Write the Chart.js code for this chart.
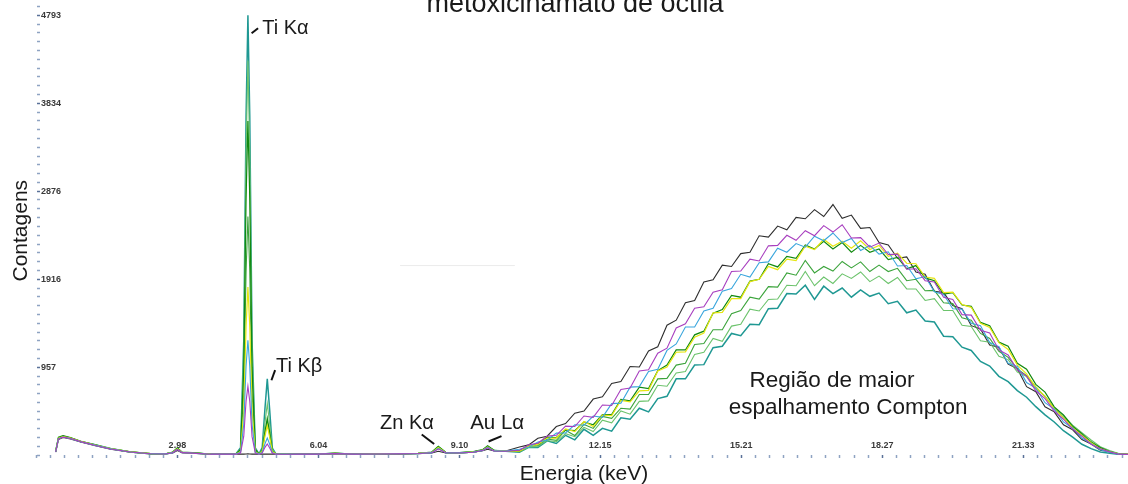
<!DOCTYPE html>
<html>
<head>
<meta charset="utf-8">
<title>Espectro XRF - metoxicinamato de octila</title>
<script src="https://cdn.jsdelivr.net/npm/chart.js@4.4.1/dist/chart.umd.min.js"></script>
<style>
  html, body { margin: 0; padding: 0; background: #fff; }
</style>
</head>
<body>
<canvas id="espectro" width="1128" height="484"></canvas>
<script>
// energia (keV) dos pontos lidos no espectro
const energia = [
  0.34, 0.40, 0.50, 0.66, 0.88, 1.20, 1.53, 1.96, 2.40, 2.72, 2.88, 2.98, 3.08, 3.30, 3.70, 4.10,
  4.25, 4.35, 4.42, 4.47, 4.51, 4.55, 4.60, 4.67, 4.75, 4.82, 4.88, 4.93, 4.98, 5.04, 5.12, 5.25,
  5.60, 6.00, 6.40, 6.80, 7.30, 7.80, 8.20, 8.50, 8.64, 8.80, 9.10, 9.40, 9.60, 9.71, 9.85, 10.10,
  10.4, 10.6, 10.8, 11.0, 11.2, 11.4, 11.6, 11.8, 12.0, 12.2, 12.4, 12.6, 12.8, 13.0, 13.2, 13.4,
  13.6, 13.8, 14.0, 14.2, 14.4, 14.6, 14.8, 15.0, 15.2, 15.4, 15.6, 15.8, 16.0, 16.2, 16.4, 16.6,
  16.8, 17.0, 17.2, 17.4, 17.6, 17.8, 18.0, 18.2, 18.4, 18.6, 18.8, 19.0, 19.2, 19.4, 19.6, 19.8,
  20.0, 20.2, 20.4, 20.6, 20.8, 21.0, 21.2, 21.4, 21.6, 21.8, 22.0, 22.2, 22.4, 22.6, 22.8, 23.0,
  23.2, 23.4, 23.6
];

const contagensPreto = [
  32, 170, 190, 175, 142, 102, 64, 31, 12, 11, 22, 48, 24, 19, 8, 8,
  8, 9, 10, 11, 12, 11, 10, 9, 9, 9, 10, 10, 9, 9, 8, 8,
  9, 9, 13, 9, 10, 12, 15, 22, 40, 22, 22, 30, 48, 62, 45, 44,
  88, 110, 182, 205, 310, 342, 455, 480, 610, 635, 780, 800, 965, 960, 1135, 1180,
  1415, 1470, 1660, 1685, 1885, 1910, 2070, 2055, 2195, 2210, 2390, 2375, 2495, 2455, 2590, 2575,
  2675, 2600, 2730, 2580, 2615, 2470, 2480, 2315, 2290, 2145, 2160, 1995, 1970, 1785, 1770, 1630,
  1595, 1410, 1375, 1200, 1175, 990, 940, 745, 690, 525, 470, 330, 275, 168, 120, 52,
  35, 9, 7
];

const contagensMagenta = [
  34, 176, 195, 179, 146, 104, 66, 32, 13, 11, 25, 60, 26, 20, 9, 9,
  9, 21, 205, 588, 750, 585, 200, 20, 9, 20, 83, 120, 80, 19, 9, 8,
  10, 9, 15, 9, 11, 12, 16, 25, 65, 24, 22, 30, 48, 78, 44, 41,
  52, 112, 128, 207, 215, 315, 310, 425, 410, 545, 540, 715, 730, 915, 930, 1110,
  1165, 1385, 1430, 1600, 1615, 1775, 1800, 2000, 2005, 2135, 2115, 2280, 2285, 2395, 2340, 2445,
  2390, 2500, 2430, 2510, 2365, 2370, 2265, 2310, 2185, 2190, 2025, 2030, 1900, 1885, 1720, 1695,
  1530, 1525, 1360, 1330, 1145, 1090, 925, 860, 700, 615, 478, 390, 282, 205, 117, 67,
  34, 9, 7
];

const contagensAzul = [
  35, 178, 196, 180, 145, 105, 67, 33, 14, 12, 26, 62, 27, 21, 9, 9,
  10, 29, 335, 970, 1250, 965, 330, 28, 10, 26, 123, 185, 120, 25, 9, 9,
  10, 9, 16, 9, 11, 13, 16, 26, 72, 25, 23, 31, 50, 82, 45, 42,
  62, 84, 142, 162, 238, 240, 330, 325, 425, 410, 560, 565, 740, 745, 910, 935,
  1140, 1210, 1395, 1395, 1570, 1600, 1785, 1815, 1970, 1940, 2095, 2105, 2255, 2210, 2305, 2265,
  2385, 2335, 2420, 2315, 2360, 2230, 2285, 2190, 2215, 2060, 2065, 1920, 1945, 1780, 1750, 1595,
  1590, 1435, 1410, 1225, 1180, 1000, 965, 790, 730, 570, 500, 360, 292, 185, 123, 57,
  31, 10, 4
];

const contagensAmarelo = [
  37, 182, 200, 184, 148, 108, 69, 34, 15, 13, 28, 68, 29, 22, 10, 10,
  10, 37, 480, 1410, 1830, 1405, 485, 36, 10, 38, 205, 320, 200, 37, 10, 9,
  11, 10, 18, 10, 12, 14, 18, 28, 82, 27, 24, 33, 53, 88, 47, 44,
  41, 97, 115, 185, 185, 285, 255, 365, 310, 435, 430, 595, 580, 700, 705, 915,
  960, 1120, 1125, 1285, 1330, 1550, 1555, 1705, 1705, 1890, 1915, 2055, 2020, 2135, 2120, 2275,
  2240, 2350, 2275, 2330, 2255, 2335, 2240, 2285, 2165, 2200, 2090, 2085, 1940, 1925, 1770, 1775,
  1640, 1610, 1435, 1390, 1225, 1150, 980, 885, 738, 640, 502, 405, 297, 212, 134, 66,
  35, 12, 6
];

const contagensVerdeEscuro = [
  40, 195, 210, 190, 150, 110, 68, 34, 15, 14, 32, 78, 31, 25, 9, 10,
  10, 62, 950, 2800, 3640, 2795, 955, 60, 10, 46, 254, 400, 250, 45, 10, 9,
  11, 10, 21, 10, 12, 14, 18, 32, 95, 30, 26, 36, 58, 100, 52, 48,
  46, 100, 118, 194, 190, 275, 265, 360, 330, 440, 440, 605, 590, 740, 725, 920,
  980, 1145, 1145, 1310, 1350, 1545, 1585, 1740, 1720, 1895, 1915, 2085, 2050, 2165, 2145, 2290,
  2245, 2330, 2245, 2315, 2210, 2285, 2210, 2245, 2130, 2155, 2030, 2065, 1930, 1900, 1755, 1770,
  1635, 1620, 1445, 1410, 1230, 1185, 1000, 935, 770, 685, 525, 437, 310, 233, 138, 81,
  34, 12, 7
];

const contagensVerde = [
  36, 180, 198, 185, 146, 106, 70, 35, 14, 12, 29, 70, 29, 23, 10, 9,
  11, 49, 680, 2000, 2600, 2005, 685, 48, 11, 42, 230, 360, 228, 40, 9, 10,
  10, 11, 17, 9, 11, 13, 17, 27, 80, 25, 23, 31, 50, 85, 46, 44,
  38, 95, 104, 174, 160, 270, 212, 333, 290, 420, 400, 510, 500, 660, 660, 830,
  835, 980, 1000, 1205, 1215, 1365, 1365, 1540, 1575, 1720, 1700, 1835, 1830, 1985, 1960, 2120,
  1985, 2055, 2005, 2110, 2040, 2105, 2000, 2070, 2000, 2035, 1900, 1915, 1790, 1795, 1660, 1650,
  1495, 1470, 1325, 1270, 1130, 1065, 938, 865, 742, 635, 507, 412, 315, 216, 146, 77,
  40, 14, 7
];

const contagensVerdeClaro = [
  42, 180, 205, 188, 152, 108, 70, 36, 16, 13, 30, 72, 30, 24, 10, 11,
  11, 65, 1120, 3310, 4300, 3300, 1125, 70, 11, 60, 350, 560, 345, 58, 11, 9,
  12, 10, 18, 11, 13, 15, 19, 30, 88, 28, 25, 34, 55, 92, 50, 45,
  35, 85, 93, 158, 145, 233, 200, 302, 255, 380, 350, 480, 445, 585, 590, 760,
  750, 895, 910, 1095, 1120, 1270, 1240, 1405, 1425, 1590, 1570, 1695, 1700, 1850, 1845, 2000,
  1845, 1940, 1870, 1975, 1925, 1995, 1890, 1950, 1870, 1935, 1810, 1810, 1685, 1705, 1575, 1575,
  1415, 1400, 1245, 1230, 1075, 1040, 905, 855, 720, 642, 515, 433, 325, 243, 163, 91,
  48, 16, 8
];

const contagensTurquesa = [
  38, 185, 200, 182, 148, 112, 72, 33, 14, 12, 28, 70, 28, 22, 9, 10,
  12, 80, 1250, 3700, 4793, 3690, 1240, 78, 12, 80, 510, 830, 505, 75, 10, 8,
  11, 9, 20, 9, 12, 14, 17, 28, 85, 26, 24, 32, 52, 90, 48, 42,
  30, 83, 83, 155, 125, 215, 165, 280, 215, 290, 260, 405, 390, 510, 470, 615,
  640, 830, 830, 980, 985, 1170, 1185, 1325, 1300, 1425, 1420, 1595, 1600, 1760, 1755, 1850,
  1695, 1840, 1760, 1820, 1720, 1800, 1730, 1765, 1650, 1675, 1550, 1580, 1460, 1450, 1295, 1290,
  1175, 1140, 1020, 970, 858, 800, 702, 630, 527, 437, 360, 265, 194, 117, 69, 33,
  18, 7, 4
];

const xTicksValores = [2.98, 6.04, 9.10, 12.15, 15.21, 18.27, 21.33];
const xTicksRotulos = ['2.98', '6.04', '9.10', '12.15', '15.21', '18.27', '21.33'];
const yTicksValores = [957, 1916, 2876, 3834, 4793];
const yTicksRotulos = ['957', '1916', '2876', '3834', '4793'];

const titulo = 'metoxicinamato de octila';

// rótulos das linhas e traços indicadores, em coordenadas de dados (keV, contagens)
const anotacoes = [
  { texto: 'Ti Kα', e: 4.82, c: 4650, tamanho: 20, alinhar: 'left', traco: [4.59, 4597, 4.73, 4651] },
  { texto: 'Ti Kβ', e: 5.12, c: 965, tamanho: 20, alinhar: 'left', traco: [5.02, 815, 5.10, 925] },
  { texto: 'Zn Kα', e: 7.375, c: 348, tamanho: 20, alinhar: 'left', traco: [8.28, 223, 8.55, 120] },
  { texto: 'Au Lα', e: 9.33, c: 348, tamanho: 20.5, alinhar: 'left', traco: [9.73, 147, 10.01, 206] },
  { texto: 'Região de maior', e: 17.18, c: 804, tamanho: 22.5, alinhar: 'center' },
  { texto: 'espalhamento Compton', e: 17.53, c: 511, tamanho: 22.5, alinhar: 'center' },
  { traco: [7.81, 2065, 10.30, 2065], cor: '#ececec', largura: 1 }
];

const series = [
  { rotulo: 'Magenta', dados: contagensMagenta, cor: '#a83fbf', largura: 1.1 },
  { rotulo: 'Azul', dados: contagensAzul, cor: '#3aa6dd', largura: 1.1 },
  { rotulo: 'Amarelo', dados: contagensAmarelo, cor: '#e6e612', largura: 1.2 },
  { rotulo: 'Verde escuro', dados: contagensVerdeEscuro, cor: '#128a10', largura: 1.2 },
  { rotulo: 'Verde', dados: contagensVerde, cor: '#3ca43c', largura: 1.1 },
  { rotulo: 'Verde claro', dados: contagensVerdeClaro, cor: '#6cc36c', largura: 1.1 },
  { rotulo: 'Turquesa', dados: contagensTurquesa, cor: '#1f9893', largura: 1.5 },
  { rotulo: 'Preto', dados: contagensPreto, cor: '#2e2e2e', largura: 1.1 }
];

const fonte = '"Liberation Sans", Arial, sans-serif';

function subdividir(valores, min, max, partes) {
  const ticks = [];
  const passoIni = (valores[1] - valores[0]) / partes;
  const passoFim = (valores[valores.length - 1] - valores[valores.length - 2]) / partes;
  for (let v = valores[0] - passoIni; v >= min - passoIni * 0.3; v -= passoIni) {
    ticks.unshift({ value: v });
  }
  valores.forEach((v, i) => {
    ticks.push({ value: v, major: true });
    const ultimo = i === valores.length - 1;
    const passo = ultimo ? passoFim : (valores[i + 1] - v) / partes;
    for (let k = 1; ultimo || k < partes; k++) {
      const w = v + passo * k;
      if (w > max + 1e-6) break;
      ticks.push({ value: w });
    }
  });
  return ticks;
}

function rotuloDe(valores, rotulos) {
  return (valor, i, ticks) => {
    if (!ticks[i].major) return '';
    const idx = valores.findIndex(v => Math.abs(v - valor) < 1e-6);
    return idx >= 0 ? rotulos[idx] : '';
  };
}

const corTick = ctx => (ctx.tick && ctx.tick.major ? '#5a7198' : '#8ea3c2');

const pluginAnotacoes = {
  id: 'anotacoes',
  afterDatasetsDraw(chart) {
    const { ctx, scales: { x, y } } = chart;
    ctx.save();
    anotacoes.forEach(a => {
      if (a.traco) {
        ctx.beginPath();
        ctx.strokeStyle = a.cor || '#111';
        ctx.lineWidth = a.largura || 2;
        ctx.moveTo(x.getPixelForValue(a.traco[0]), y.getPixelForValue(a.traco[1]));
        ctx.lineTo(x.getPixelForValue(a.traco[2]), y.getPixelForValue(a.traco[3]));
        ctx.stroke();
      }
      if (a.texto) {
        ctx.fillStyle = '#1a1a1a';
        ctx.font = a.tamanho + 'px ' + fonte;
        ctx.textAlign = a.alinhar;
        ctx.textBaseline = 'middle';
        ctx.fillText(a.texto, x.getPixelForValue(a.e), y.getPixelForValue(a.c));
      }
    });
    ctx.fillStyle = '#1a1a1a';
    ctx.font = '27px ' + fonte;
    ctx.textAlign = 'center';
    ctx.textBaseline = 'alphabetic';
    ctx.fillText(titulo, 575, 12);
    ctx.restore();
  }
};

new Chart(document.getElementById('espectro'), {
  type: 'line',
  data: {
    datasets: series.map(s => ({
      label: s.rotulo,
      data: energia.map((e, i) => ({ x: e, y: s.dados[i] })),
      borderColor: s.cor,
      borderWidth: s.largura,
      pointRadius: 0,
      tension: 0,
      fill: false
    }))
  },
  options: {
    responsive: false,
    animation: false,
    devicePixelRatio: 1,
    layout: { padding: { top: 5, left: 0, right: 0, bottom: 0 } },
    plugins: {
      legend: { display: false },
      tooltip: { enabled: false }
    },
    scales: {
      x: {
        type: 'linear',
        min: 0,
        max: 23.6,
        afterBuildTicks: scale => { scale.ticks = subdividir(xTicksValores, 0, 23.6, 10); },
        afterFit: scale => { scale.height = 29; },
        border: { display: false },
        grid: { drawOnChartArea: false, tickLength: 3, tickColor: corTick, tickWidth: 1.5 },
        ticks: {
          autoSkip: false,
          maxRotation: 0,
          mirror: true,
          padding: 4,
          color: '#3a3a3a',
          font: { family: fonte, size: 9, weight: 'bold' },
          callback: rotuloDe(xTicksValores, xTicksRotulos)
        },
        title: {
          display: true,
          text: 'Energia (keV)',
          color: '#1a1a1a',
          font: { family: fonte, size: 21 },
          padding: { top: 0, bottom: -3 }
        }
      },
      y: {
        min: 0,
        max: 4890,
        afterBuildTicks: scale => { scale.ticks = subdividir(yTicksValores, 0, 4890, 10); },
        afterFit: scale => { scale.width = 40; },
        border: { display: false },
        grid: { drawOnChartArea: false, tickLength: 3, tickColor: corTick, tickWidth: 1.5 },
        ticks: {
          autoSkip: false,
          mirror: true,
          padding: 1,
          color: '#3a3a3a',
          font: { family: fonte, size: 9, weight: 'bold' },
          callback: rotuloDe(yTicksValores, yTicksRotulos)
        },
        title: {
          display: true,
          text: 'Contagens',
          color: '#1a1a1a',
          font: { family: fonte, size: 21 },
          padding: { top: 9, bottom: 0 }
        }
      }
    }
  },
  plugins: [pluginAnotacoes]
});
</script>
</body>
</html>
